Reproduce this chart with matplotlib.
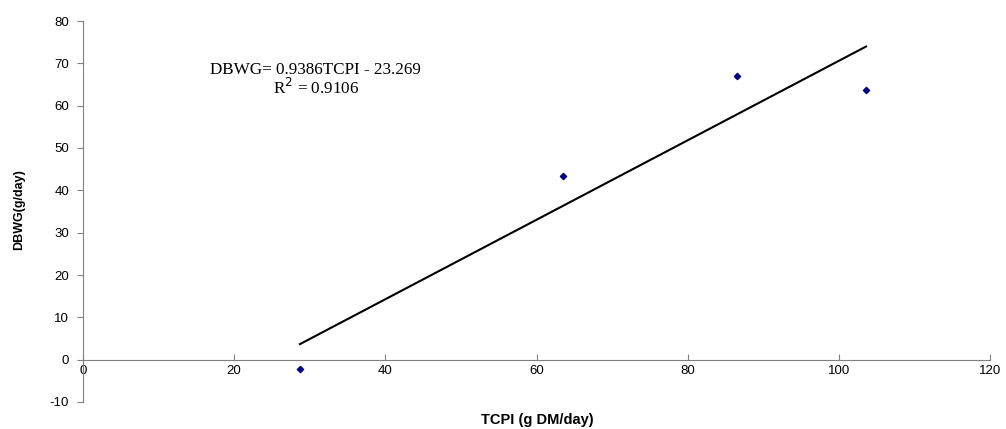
import matplotlib
matplotlib.use("Agg")
import matplotlib.pyplot as plt
import numpy as np

tcpi = [28.7, 63.5, 86.5, 103.6]
dbwg = [-2.1, 43.3, 66.9, 63.6]
slope = 0.9386
intercept = -23.269
x_ticks = [0, 20, 40, 60, 80, 100, 120]
y_ticks = [-10, 0, 10, 20, 30, 40, 50, 60, 70, 80]

fig = plt.figure(figsize=(10.06, 4.29), dpi=100)
ax = fig.add_axes([83/1006, 1-402/429, (990-83)/1006, (402-21)/429])

for s in ['top', 'right']:
    ax.spines[s].set_visible(False)
ax.spines['bottom'].set_position(('data', 0))
ax.spines['bottom'].set_color('#808080')
ax.spines['left'].set_color('#808080')

ax.scatter(tcpi, dbwg, marker='D', s=10, color='#000080', zorder=3)
xl = np.array([min(tcpi), max(tcpi)])
ax.plot(xl, slope*xl + intercept, color='black', lw=1.5)

ax.set_xlim(0, 120)
ax.set_ylim(-10, 80)
ax.set_xticks(x_ticks)
ax.set_yticks(y_ticks)
ax.set_xticklabels([str(v) for v in x_ticks])
ax.set_yticklabels([str(v) for v in y_ticks])
for lab in ax.get_xticklabels() + ax.get_yticklabels():
    lab.set_fontsize(9.5)
    lab.set_family('Liberation Sans')
ax.tick_params(axis='y', direction='out', length=4, color='#808080', pad=6)
ax.tick_params(axis='x', direction='in', length=4, color='#808080', pad=4)

fig.text(537/1006, 1-420/429, 'TCPI (g DM/day)', ha='center', va='center',
         fontsize=10.5, fontweight='bold', family='Liberation Sans')
fig.text(19/1006, 1-210/429, 'DBWG(g/day)', ha='center', va='center', rotation=90,
         fontsize=9, fontweight='bold', family='Liberation Sans')

ax.text(30.7, 68.5, 'DBWG= 0.9386TCPI - 23.269', ha='center', va='center',
        fontsize=12.3, family='Liberation Serif')
ax.text(30.9, 64.3, 'R$^2$ = 0.9106', ha='center', va='center',
        fontsize=12.3, family='Liberation Serif')

fig.savefig('out.png', dpi=100)
